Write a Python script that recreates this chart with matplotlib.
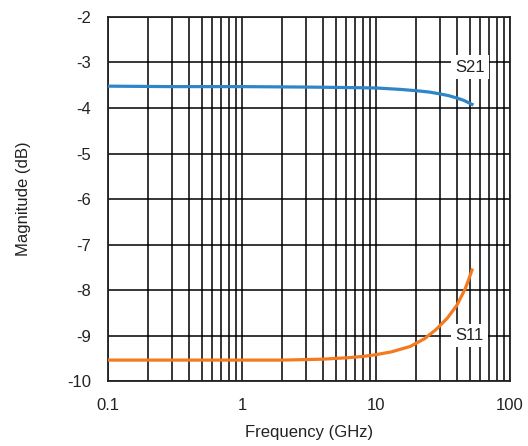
import matplotlib
matplotlib.use('Agg')
import matplotlib.pyplot as plt
from matplotlib.ticker import FixedLocator, FixedFormatter, LogLocator, NullFormatter

plt.rcParams['font.family'] = ['Liberation Sans', 'DejaVu Sans']

# S21 readings (GHz, dB)
s21_freq = [0.1, 0.3, 1, 3, 6, 10, 15, 20, 25, 30, 35, 40, 45, 52]
s21_db = [-3.52, -3.53, -3.53, -3.54, -3.55, -3.56, -3.59, -3.62, -3.65, -3.69, -3.73, -3.78, -3.83, -3.92]

# S11 readings (GHz, dB)
s11_freq = [0.1, 0.3, 1, 2, 4, 6, 8, 10, 13, 18, 23, 28, 34, 40, 46, 49, 52]
s11_db = [-9.54, -9.54, -9.54, -9.54, -9.52, -9.49, -9.46, -9.42, -9.36, -9.24, -9.07, -8.87, -8.62, -8.34, -7.99, -7.78, -7.56]

xticks = [0.1, 1, 10, 100]
xlabels = ['0.1', '1', '10', '100']
yticks = [-10, -9, -8, -7, -6, -5, -4, -3, -2]

fig = plt.figure(figsize=(5.28, 4.46), dpi=100)
ax = fig.add_axes([0.2045, 0.1457, 0.7615, 0.8162])

ax.set_xscale('log')
ax.set_xlim(0.1, 100)
ax.set_ylim(-10, -2)

ax.plot(s21_freq, s21_db, color='#2e86c8', lw=2.3, zorder=3)
ax.plot(s11_freq, s11_db, color='#f47a20', lw=2.3, zorder=3)

ax.xaxis.set_major_locator(FixedLocator(xticks))
ax.xaxis.set_major_formatter(FixedFormatter(xlabels))
ax.xaxis.set_minor_locator(LogLocator(base=10, subs=range(2, 10)))
ax.xaxis.set_minor_formatter(NullFormatter())
ax.set_yticks(yticks)
ax.set_yticklabels([str(v) for v in yticks])

ax.grid(True, which='both', color='black', lw=1.1, zorder=1)
for s in ax.spines.values():
    s.set_color('#222222')
    s.set_linewidth(1.3)
ax.tick_params(which='both', length=0, labelsize=12, colors='#222222')
ax.tick_params(axis='x', pad=12)
ax.tick_params(axis='y', pad=12)

ax.text(50, -3.1, 'S21', fontsize=12, ha='center', va='center', color='#222222',
        bbox=dict(facecolor='white', edgecolor='none', pad=3), zorder=4)
ax.text(50, -9.0, 'S11', fontsize=12, ha='center', va='center', color='#222222',
        bbox=dict(facecolor='white', edgecolor='none', pad=3), zorder=4)

ax.set_xlabel('Frequency (GHz)', fontsize=12, color='#222222', labelpad=9)
ax.set_ylabel('Magnitude (dB)', fontsize=12, color='#222222', labelpad=26)

fig.savefig('out.png', dpi=100)
